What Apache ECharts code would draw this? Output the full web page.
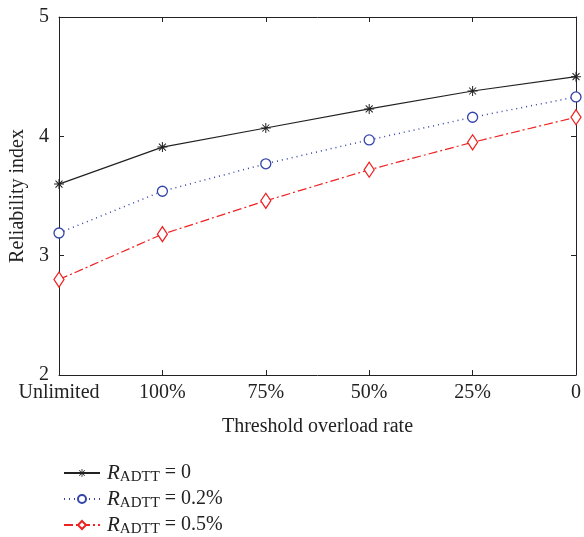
<!DOCTYPE html>
<html>
<head>
<meta charset="utf-8">
<script src="https://cdn.jsdelivr.net/npm/echarts@6/dist/echarts.min.js"></script>
<style>
  html, body { margin: 0; padding: 0; background: #fff; }
  #chart { width: 584px; height: 537px; }
</style>
</head>
<body>
<div id="chart"></div>
<script>
// data
var categories = ['Unlimited', '100%', '75%', '50%', '25%', '0'];
var adtt0 = [3.60, 3.91, 4.07, 4.23, 4.38, 4.50];
var adtt02 = [3.19, 3.54, 3.77, 3.97, 4.16, 4.33];
var adtt05 = [2.80, 3.18, 3.46, 3.72, 3.95, 4.16];
var yTicks = [2, 3, 4, 5];

var FONT = '"Liberation Serif", "DejaVu Serif", serif';

// asterisk marker (matlab style '*')
var starPath = 'path://M0 9L20 9L20 11L0 11Z M9 0L11 0L11 20L9 20Z ' +
    'M2.3 3.7L3.7 2.3L17.7 16.3L16.3 17.7Z M16.3 2.3L17.7 3.7L3.7 17.7L2.3 16.3Z';

var chart = echarts.init(document.getElementById('chart'));

var rich = {
    r: { fontFamily: FONT, fontSize: 21, fontStyle: 'italic', color: '#222' },
    s: { fontFamily: FONT, fontSize: 15, color: '#222', padding: [9, 0, 0, 0] },
    t: { fontFamily: FONT, fontSize: 20, color: '#222' }
};

var option = {
    animation: false,
    backgroundColor: '#fff',
    grid: { left: 59, right: 5, top: 17, bottom: 162, containLabel: false },
    legend: {
        orient: 'vertical',
        left: 58,
        top: 457,
        height: 80,
        itemWidth: 36,
        itemHeight: 10,
        itemGap: 3,
        data: ['a0', 'a02', 'a05'],
        formatter: function (name) {
            var v = { a0: '0', a02: '0.2%', a05: '0.5%' }[name];
            return '{r|R}{s|ADTT}{t| = ' + v + '}';
        },
        textStyle: { rich: rich, padding: [0, 0, 0, 2], lineHeight: 22 }
    },
    xAxis: [{
        type: 'category',
        data: categories,
        boundaryGap: false,
        name: 'Threshold overload rate',
        nameLocation: 'middle',
        nameGap: 42,
        nameTextStyle: { fontFamily: FONT, fontSize: 20, color: '#222' },
        axisLine: { lineStyle: { color: '#222', width: 1 } },
        axisTick: { inside: true, length: 5, interval: 0, lineStyle: { color: '#222' } },
        axisLabel: { fontFamily: FONT, fontSize: 20, color: '#222', margin: 8, interval: 0, hideOverlap: false },
        splitLine: { show: false }
    }, {
        type: 'category',
        data: categories,
        boundaryGap: false,
        position: 'top',
        axisLine: { lineStyle: { color: '#222', width: 1 } },
        axisTick: { inside: true, length: 5, interval: 0, lineStyle: { color: '#222' } },
        axisLabel: { show: false }
    }],
    yAxis: [{
        type: 'value',
        min: yTicks[0],
        max: yTicks[yTicks.length - 1],
        interval: 1,
        name: 'Reliability index',
        nameLocation: 'middle',
        nameGap: 28,
        nameTextStyle: { fontFamily: FONT, fontSize: 20, color: '#222' },
        axisLine: { show: true, lineStyle: { color: '#222', width: 1 } },
        axisTick: { show: true, inside: true, length: 5, lineStyle: { color: '#222' } },
        axisLabel: { fontFamily: FONT, fontSize: 20, color: '#222', margin: 10 },
        splitLine: { show: false }
    }, {
        type: 'value',
        min: yTicks[0],
        max: yTicks[yTicks.length - 1],
        interval: 1,
        position: 'right',
        axisLine: { show: true, lineStyle: { color: '#222', width: 1 } },
        axisTick: { show: true, inside: true, length: 5, lineStyle: { color: '#222' } },
        axisLabel: { show: false },
        splitLine: { show: false }
    }],
    series: [{
        name: 'a0',
        type: 'line',
        data: adtt0,
        symbol: starPath,
        symbolSize: 10,
        showAllSymbol: true,
        lineStyle: { color: '#222', width: 1.2, type: 'solid' },
        itemStyle: { color: '#222', borderWidth: 0 }
    }, {
        name: 'a02',
        type: 'line',
        data: adtt02,
        symbol: 'circle',
        symbolSize: 10,
        showAllSymbol: true,
        lineStyle: { color: '#3344aa', width: 1.5, type: [1, 4] },
        itemStyle: { color: '#fff', borderColor: '#3344aa', borderWidth: 1.3 }
    }, {
        name: 'a05',
        type: 'line',
        data: adtt05,
        symbol: 'diamond',
        symbolSize: [10, 15],
        showAllSymbol: true,
        lineStyle: { color: '#ee2222', width: 1.2, type: [9, 3, 2, 3] },
        itemStyle: { color: '#fff', borderColor: '#ee2222', borderWidth: 1.3 }
    }]
};

chart.setOption(option);
</script>
</body>
</html>
